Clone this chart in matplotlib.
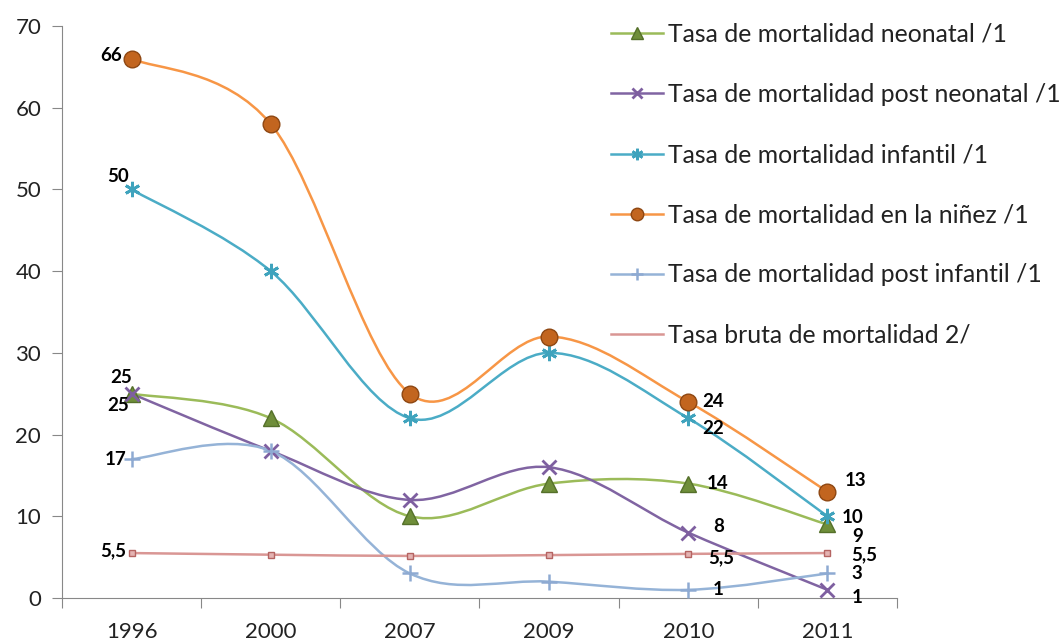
import numpy as np
import matplotlib
matplotlib.use('Agg')
import matplotlib.pyplot as plt
from matplotlib.path import Path
from matplotlib.patches import PathPatch
from matplotlib.lines import Line2D

plt.rcParams['font.family'] = ['Lato', 'DejaVu Sans']

years = ['1996', '2000', '2007', '2009', '2010', '2011']

neonatal = [25, 22, 10, 14, 14, 9]
post_neonatal = [25, 18, 12, 16, 8, 1]
infantil = [50, 40, 22, 30, 22, 10]
ninez = [66, 58, 25, 32, 24, 13]
post_infantil = [17, 18, 3, 2, 1, 3]
bruta = [5.5, 5.3, 5.15, 5.25, 5.4, 5.5]

labels = ['Tasa de mortalidad neonatal /1',
          'Tasa de mortalidad post neonatal /1',
          'Tasa de mortalidad infantil /1',
          'Tasa de mortalidad en la niñez /1',
          'Tasa de mortalidad post infantil /1',
          'Tasa bruta de mortalidad 2/']

# data labels: (series, point index, text)
point_labels = [
    ('ninez', 0, '66'), ('infantil', 0, '50'), ('post_neonatal', 0, '25'),
    ('neonatal', 0, '25'), ('post_infantil', 0, '17'), ('bruta', 0, '5,5'),
    ('ninez', 4, '24'), ('infantil', 4, '22'), ('neonatal', 4, '14'),
    ('post_neonatal', 4, '8'), ('bruta', 4, '5,5'), ('post_infantil', 4, '1'),
    ('ninez', 5, '13'), ('infantil', 5, '10'), ('neonatal', 5, '9'),
    ('bruta', 5, '5,5'), ('post_infantil', 5, '3'), ('post_neonatal', 5, '1'),
]
# pixel offsets for the labels (dx, dy, ha)
label_offsets = [
    (-10, 3, 'right'), (-3, 13, 'right'), (0, 16, 'right'),
    (-3, -12, 'right'), (-5, 0, 'right'), (-5, 2, 'right'),
    (14, 0, 'left'), (14, -10, 'left'), (18, 0, 'left'),
    (25, 6, 'left'), (20, -4, 'left'), (24, 0, 'left'),
    (17, 11, 'left'), (14, -1, 'left'), (25, -12, 'left'),
    (24, -2, 'left'), (24, 0, 'left'), (24, -8, 'left'),
]

series = {
    'neonatal': neonatal, 'post_neonatal': post_neonatal, 'infantil': infantil,
    'ninez': ninez, 'post_infantil': post_infantil, 'bruta': bruta,
}
styles = {
    'neonatal': dict(color='#9BBB59', marker='^', ms=12, mfc='#6F8E3A', mec='#55702A'),
    'post_neonatal': dict(color='#8064A2', marker='x', ms=10, mfc='#7E5FA0', mec='#7E5FA0', mew=2),
    'infantil': dict(color='#4BACC6', marker=(6, 2, 0), ms=11, mfc='#3FA3BD', mec='#3FA3BD', mew=2),
    'ninez': dict(color='#F79646', marker='o', ms=12, mfc='#C2651F', mec='#8E4712'),
    'post_infantil': dict(color='#95B3D7', marker='+', ms=11, mfc='#95B3D7', mec='#8EAAD2', mew=1.8),
    'bruta': dict(color='#D99694', marker='s', ms=4.5, mfc='#E4B3B2', mec='#B56462', mew=1),
}
order = ['neonatal', 'post_neonatal', 'infantil', 'ninez', 'post_infantil', 'bruta']


def smooth(xs, ys):
    pts = np.column_stack([xs, ys]).astype(float)
    n = len(pts)
    verts = [pts[0]]
    codes = [Path.MOVETO]
    for i in range(n - 1):
        p0 = pts[max(i - 1, 0)]
        p1 = pts[i]
        p2 = pts[i + 1]
        p3 = pts[min(i + 2, n - 1)]
        verts += [p1 + (p2 - p0) / 6, p2 - (p3 - p1) / 6, p2]
        codes += [Path.CURVE4] * 3
    return Path(verts, codes)


fig = plt.figure(figsize=(10.63, 6.43), dpi=100)
ax = fig.add_axes([62 / 1063, 1 - 598 / 643, 835 / 1063, 572 / 643])

x = np.arange(len(years))
handles = []
for key in order:
    st = styles[key]
    ys = series[key]
    ax.add_patch(PathPatch(smooth(x, ys), fill=False, edgecolor=st['color'], lw=1.8, zorder=2))
    ax.plot(x, ys, ls='none', marker=st['marker'], ms=st['ms'], mfc=st['mfc'],
            mec=st['mec'], mew=st.get('mew', 1), zorder=3)
    if key == 'bruta':
        h = Line2D([], [], color=st['color'], lw=1.8)
    else:
        h = Line2D([], [], color=st['color'], lw=1.8, marker=st['marker'], ms=st['ms'] * 0.75,
                   mfc=st['mfc'], mec=st['mec'], mew=st.get('mew', 1))
    handles.append(h)

for (key, i, txt), (dx, dy, ha) in zip(point_labels, label_offsets):
    ax.annotate(txt, (x[i], series[key][i]), xytext=(dx, dy), textcoords='offset pixels',
                ha=ha, va='center', fontsize=13.5, fontweight='bold', color='black', zorder=5)

ax.set_xlim(-0.5, 5.5)
ax.set_ylim(0, 70)
ax.set_yticks(range(0, 71, 10))
ax.set_xticks(x)
ax.set_xticklabels(years)
ax.set_xticks(np.arange(-0.5, 6, 1), minor=True)
ax.tick_params(axis='x', which='major', length=0, pad=17, labelsize=16, labelcolor='#222222')
ax.tick_params(axis='x', which='minor', length=7, color='#888888', width=0.8)
ax.tick_params(axis='y', length=7, color='#888888', width=0.8, pad=8, labelsize=16, labelcolor='#222222')
for s in ['top', 'right']:
    ax.spines[s].set_visible(False)
for s in ['left', 'bottom']:
    ax.spines[s].set_color('#888888')
    ax.spines[s].set_linewidth(0.8)

fig.legend(handles, labels, loc='upper left', bbox_to_anchor=(611 / 1063, 1 - 23 / 643),
           frameon=False, fontsize=17.8, handlelength=2.1, handletextpad=0.2,
           labelspacing=1.5, borderpad=0, borderaxespad=0, labelcolor='#222222')

fig.savefig('out.png', dpi=100)
